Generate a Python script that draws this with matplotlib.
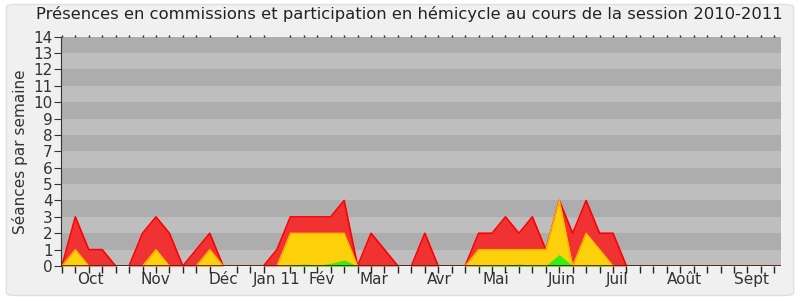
import matplotlib
matplotlib.use("Agg")
import matplotlib.pyplot as plt
from matplotlib.patches import FancyBboxPatch

# weekly values (54 weeks, session 2010-2011)
total = [0, 3, 1, 1, 0, 0, 2, 3, 2, 0, 1, 2, 0, 0, 0, 0, 1, 3, 3, 3, 3, 4, 0, 2, 1, 0,
         0, 2, 0, 0, 0, 2, 2, 3, 2, 3, 1, 4, 2, 4, 2, 2, 0, 0, 0, 0, 0, 0, 0, 0, 0, 0, 0, 0]
hemicycle = [0, 1, 0, 0, 0, 0, 0, 1, 0, 0, 0, 1, 0, 0, 0, 0, 0, 2, 2, 2, 2, 2, 0, 0, 0, 0,
             0, 0, 0, 0, 0, 1, 1, 1, 1, 1, 1, 4, 0, 2, 1, 0, 0, 0, 0, 0, 0, 0, 0, 0, 0, 0, 0, 0]
interventions = [0, 0, 0, 0, 0, 0, 0, 0, 0, 0, 0, 0, 0, 0, 0, 0, 0, 0.03, 0.12, 0.06, 0.16, 0.36, 0, 0, 0, 0,
                 0, 0, 0, 0, 0, 0.03, 0.03, 0.03, 0.12, 0.03, 0.03, 0.7, 0, 0.03, 0.03, 0, 0, 0, 0, 0, 0, 0, 0, 0, 0, 0, 0, 0]
month_labels = ["Oct", "Nov", "Déc", "Jan 11", "Fév", "Mar", "Avr", "Mai", "Juin", "Juil", "Août", "Sept"]
month_pos = [2.1, 6.95, 12.0, 16.0, 19.3, 23.2, 28.1, 32.3, 37.2, 41.3, 46.3, 51.3]

weeks = list(range(len(total)))

fig = plt.figure(figsize=(8, 3), dpi=100)
fig.patch.set_facecolor("white")
bg = FancyBboxPatch((0.008, 0.015), 0.984, 0.97, boxstyle="round,pad=0,rounding_size=0.01",
                    transform=fig.transFigure, facecolor="#f0f0f0", edgecolor="#e0e0e0", lw=1, zorder=-10)
fig.patches.append(bg)

ax = fig.add_axes([0.0765, 0.1133, 0.8998, 0.7644])
ax.set_zorder(1)
ax.set_facecolor("#bebebe")
for k in range(14):
    ax.axhspan(k, k + 1, color="#adadad" if k % 2 == 1 else "#bebebe", lw=0, zorder=0)

ax.fill_between(weeks, total, color="#f03232", lw=0, zorder=2)
ax.plot(weeks, total, color="#ff0000", lw=1.2, zorder=2)
ax.fill_between(weeks, hemicycle, color="#fcd00a", lw=0, zorder=3)
ax.plot(weeks, hemicycle, color="#f8b800", lw=1.0, zorder=3)
ax.fill_between(weeks, interventions, color="#33ee11", lw=0, zorder=4)
ax.axhline(0, color="#3a1a10", lw=1.2, zorder=5)

ax.set_xlim(-0.05, 53.5)
ax.set_ylim(0, 14)
ax.set_yticks(range(15))
ax.tick_params(axis="y", labelsize=11, length=5, pad=1, colors="#333333")
ax.set_xticks(weeks, minor=True)
ax.set_xticks(month_pos)
ax.set_xticklabels(month_labels, fontsize=11, color="#333333")
ax.tick_params(axis="x", which="major", length=0, pad=4)
ax.tick_params(axis="x", which="minor", bottom=True, length=5, direction="out", color="#222222")
ax.tick_params(axis="x", which="minor", top=True, labeltop=False)
for s in ["top", "right"]:
    ax.spines[s].set_visible(False)
ax.spines["left"].set_color("#333333")
ax.spines["bottom"].set_visible(False)

# top dotted marks: short ticks
ax.xaxis.set_tick_params(which="minor", width=1)
for t in ax.xaxis.get_minor_ticks():
    t.tick2line.set_markersize(1.2)

ax.set_ylabel("Séances par semaine", fontsize=11, color="#333333", labelpad=4)
fig.text(0.512, 0.953, "Présences en commissions et participation en hémicycle au cours de la session 2010-2011",
         ha="center", va="center", fontsize=11.8, color="#222222")

fig.savefig("out.png", dpi=100)
